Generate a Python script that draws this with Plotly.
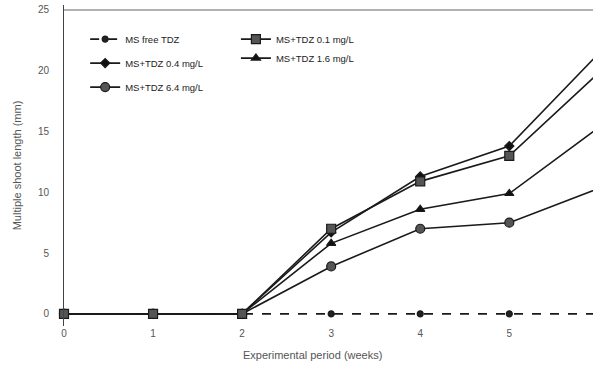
import plotly.graph_objects as go

weeks = [0, 1, 2, 3, 4, 5, 6]
ms_free = [0, 0, 0, 0, 0, 0, 0]
tdz_01 = [0, 0, 0, 7.0, 10.9, 13.0, 19.8]
tdz_04 = [0, 0, 0, 6.7, 11.3, 13.8, 21.4]
tdz_16 = [0, 0, 0, 5.8, 8.6, 9.9, 15.3]
tdz_64 = [0, 0, 0, 3.9, 7.0, 7.5, 10.3]
x_ticks = [0, 1, 2, 3, 4, 5]
y_ticks = [0, 5, 10, 15, 20, 25]

LINE = "#1a1a1a"
GREY_FILL = "#555555"

fig = go.Figure()

def add(name, y, symbol, size, fill, dash, legend, group):
    fig.add_trace(go.Scatter(
        x=weeks, y=y, name=name, mode="lines+markers",
        line=dict(color=LINE, width=1.6, dash=dash),
        marker=dict(symbol=symbol, size=size, color=fill,
                    line=dict(color=LINE, width=1.2)),
        cliponaxis=False, legend=legend, legendgroup=group,
    ))

add("MS free TDZ", ms_free, "circle", 6, "#222222", "dash", "legend", "a")
add("MS+TDZ 0.4 mg/L", tdz_04, "diamond", 7, "#111111", "solid", "legend", "b")
add("MS+TDZ 6.4 mg/L", tdz_64, "circle", 9, GREY_FILL, "solid", "legend", "c")
add("MS+TDZ 1.6 mg/L", tdz_16, "triangle-up", 8, "#111111", "solid", "legend2", "d")
add("MS+TDZ 0.1 mg/L", tdz_01, "square", 9, GREY_FILL, "solid", "legend2", "e")

leg_font = dict(family="Liberation Sans, Arial, sans-serif", size=9.5, color="#222")

fig.update_layout(
    width=593, height=368,
    margin=dict(l=64, r=0, t=5, b=42),
    plot_bgcolor="white", paper_bgcolor="white",
    font=dict(family="Liberation Sans, Arial, sans-serif", size=10, color="#555"),
    legend=dict(x=0.04, y=0.939, font=leg_font, bgcolor="rgba(0,0,0,0)",
                tracegroupgap=5, traceorder="grouped", xanchor="left", yanchor="top"),
    legend2=dict(x=0.325, y=0.939, font=leg_font, bgcolor="rgba(0,0,0,0)",
                 tracegroupgap=5, traceorder="reversed", xanchor="left", yanchor="top"),
    xaxis=dict(range=[0, 5.94], tickvals=x_ticks, showgrid=False, zeroline=False,
               showline=False, ticks="", automargin=False,
               tickfont=dict(size=10, color="#555")),
    yaxis=dict(range=[-1, 25.41], tickvals=y_ticks, showgrid=False, zeroline=False,
               showline=True, linecolor="#444", linewidth=1, ticks="",
               automargin=False, ticklabelstandoff=12, ticklabeloverflow="allow",
               tickfont=dict(size=10, color="#555"),
               title=dict(text="Multiple shoot length (mm)", standoff=14,
                          font=dict(size=11, color="#555"))),
    shapes=[dict(type="line", xref="paper", yref="y", x0=0, x1=1, y0=25, y1=25,
                 line=dict(color="#999", width=1.5))],
    annotations=[dict(text="Experimental period (weeks)", xref="paper", yref="paper",
                      x=0.469, y=-0.090, showarrow=False, xanchor="center",
                      yanchor="middle", font=dict(size=11, color="#555"))],
)

fig.write_html("out.html", config={"displayModeBar": False},
               post_script="document.body.style.margin='0';document.body.style.overflow='hidden';")
